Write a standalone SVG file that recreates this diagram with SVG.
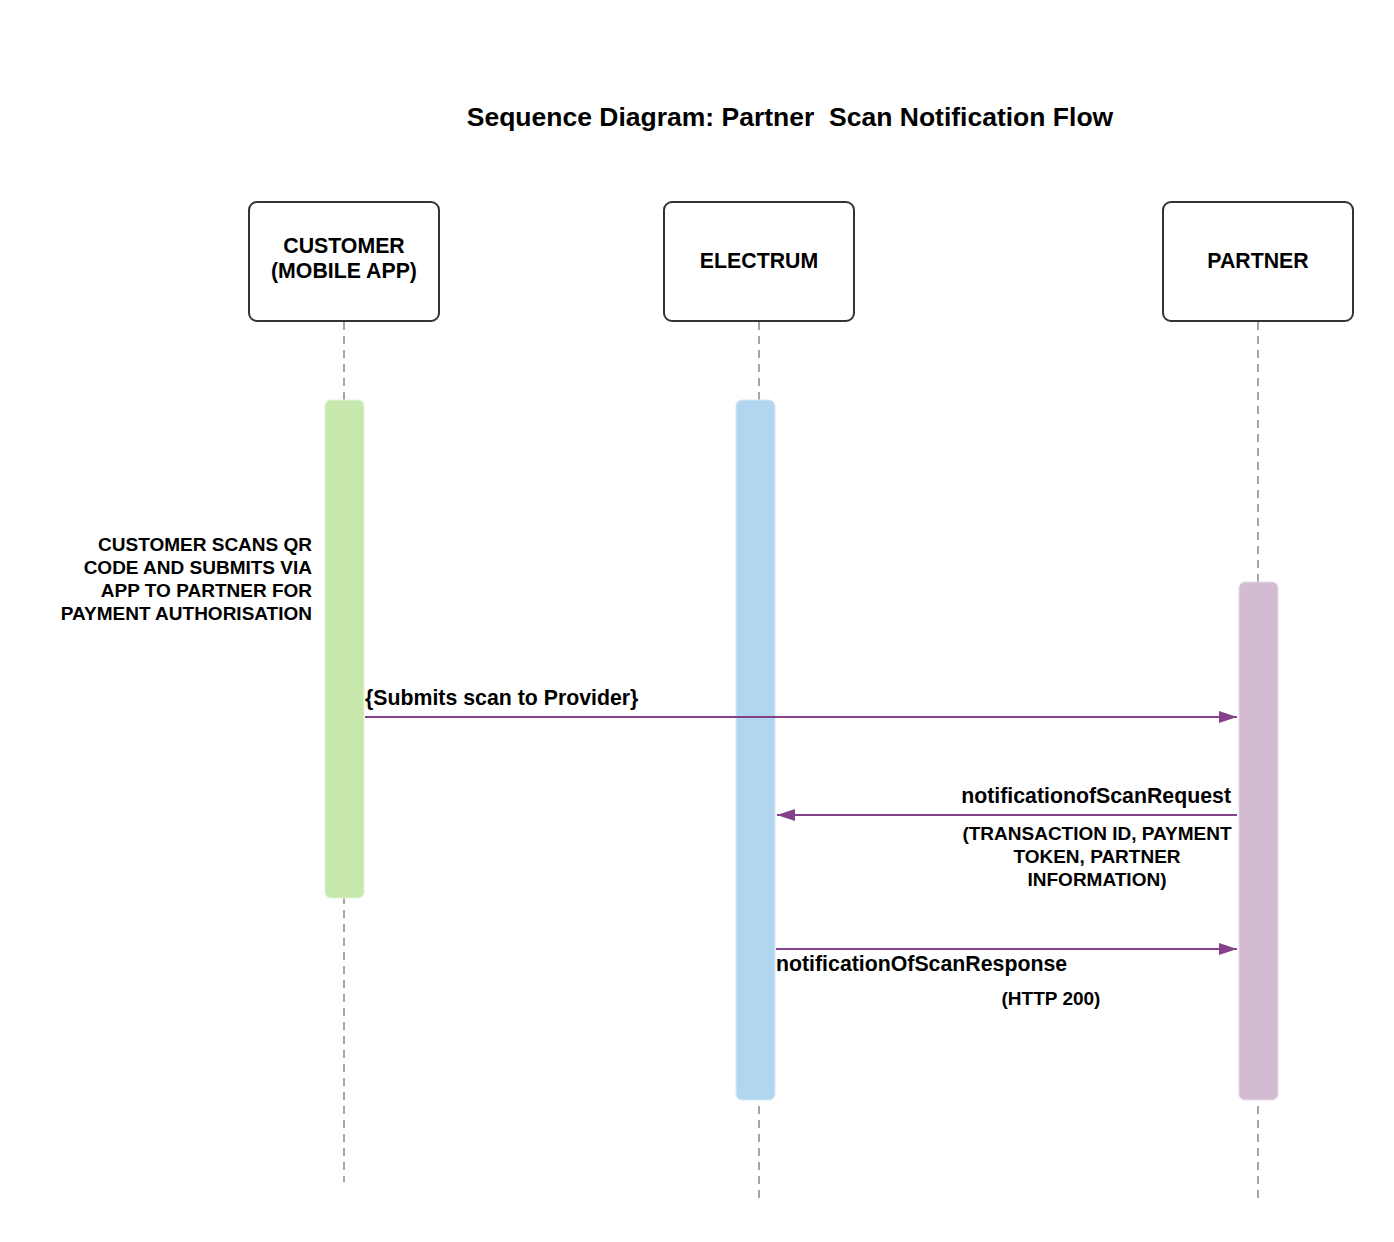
<svg xmlns="http://www.w3.org/2000/svg" width="1394" height="1242" viewBox="0 0 1394 1242">
<style>
text{font-family:"Liberation Sans",Arial,sans-serif;font-weight:bold;fill:#000}
.box{fill:#fff;stroke:#333;stroke-width:2}
.life{stroke:#777;stroke-width:1.3;stroke-dasharray:8,6;fill:none}
.msg{stroke:#834187;stroke-width:2;fill:none}
.t20{font-size:21.3px}
.t17{font-size:19px}
</style>
<defs>
<marker id="ah" markerWidth="20" markerHeight="12" refX="18" refY="6" orient="auto" markerUnits="userSpaceOnUse">
<path d="M0,0 L18,6 L0,12 Z" fill="#834187"/>
</marker>
</defs>
<rect width="1394" height="1242" fill="#fff"/>
<text x="790" y="126" text-anchor="middle" font-size="26.5" xml:space="preserve" style="white-space:pre">Sequence Diagram: Partner  Scan Notification Flow</text>
<g id="lifelines">
<line class="life" x1="344" y1="322" x2="344" y2="1182"/>
<line class="life" x1="759" y1="322" x2="759" y2="1200"/>
<line class="life" x1="1258" y1="322" x2="1258" y2="1200"/>
</g>
<g id="customer">
<rect class="box" x="249" y="202" width="190" height="119" rx="8"/>
<text class="t20" x="344" y="253" text-anchor="middle">CUSTOMER</text>
<text class="t20" x="344" y="278" text-anchor="middle">(MOBILE APP)</text>
</g>
<g id="electrum">
<rect class="box" x="664" y="202" width="190" height="119" rx="8"/>
<text class="t20" x="759" y="268" text-anchor="middle">ELECTRUM</text>
</g>
<g id="partner">
<rect class="box" x="1163" y="202" width="190" height="119" rx="8"/>
<text class="t20" x="1258" y="268" text-anchor="middle">PARTNER</text>
</g>
<g id="activations">
<rect x="325" y="400" width="39" height="498" rx="6" fill="#c7e8ac" stroke="#e4f3d6" stroke-width="1"/>
<rect x="736" y="400" width="39" height="700" rx="6" fill="#b1d6f0" stroke="#d6e9f7" stroke-width="1"/>
<rect x="1239" y="582" width="39" height="518" rx="6" fill="#d3bbd2" stroke="#e6d9e6" stroke-width="1"/>
</g>
<g id="note">
<text class="t17" text-anchor="end" x="312" y="551">CUSTOMER SCANS QR</text>
<text class="t17" text-anchor="end" x="312" y="574">CODE AND SUBMITS VIA</text>
<text class="t17" text-anchor="end" x="312" y="597">APP TO PARTNER FOR</text>
<text class="t17" text-anchor="end" x="312" y="620">PAYMENT AUTHORISATION</text>
</g>
<g id="connectors">
<line class="msg" x1="365" y1="717" x2="1237" y2="717" marker-end="url(#ah)"/>
<line class="msg" x1="1237" y1="815" x2="777" y2="815" marker-end="url(#ah)"/>
<line class="msg" x1="776" y1="949" x2="1237" y2="949" marker-end="url(#ah)"/>
</g>
<g id="labels">
<text class="t20" x="365" y="705">{Submits scan to Provider}</text>
<text class="t20" x="1231" y="803" text-anchor="end">notificationofScanRequest</text>
<text class="t17" x="1097" y="840" text-anchor="middle">(TRANSACTION ID, PAYMENT</text>
<text class="t17" x="1097" y="863" text-anchor="middle">TOKEN, PARTNER</text>
<text class="t17" x="1097" y="886" text-anchor="middle">INFORMATION)</text>
<text class="t20" x="776" y="971">notificationOfScanResponse</text>
<text class="t17" x="1051" y="1005" text-anchor="middle">(HTTP 200)</text>
</g>
</svg>
